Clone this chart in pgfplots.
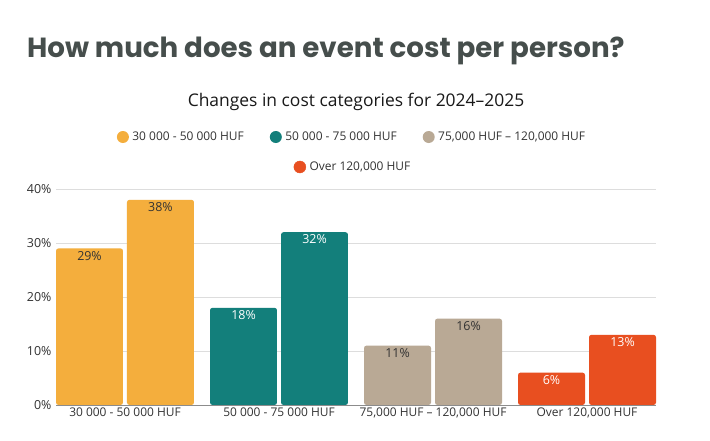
\documentclass[border=0pt]{standalone}
\usepackage{fontspec}
\setmainfont{Open Sans}
\newfontfamily\titlefont{Poppins}
\usepackage{pgfplots}
\pgfplotsset{compat=1.18}
\definecolor{yellowc}{HTML}{F4AE3D}
\definecolor{tealc}{HTML}{137F7B}
\definecolor{tanc}{HTML}{B9A995}
\definecolor{orangec}{HTML}{E84F20}
\definecolor{titlegray}{HTML}{464E4C}
\definecolor{gridc}{HTML}{DDDDDD}
\definecolor{txt}{HTML}{333333}
\begin{document}
\begin{tikzpicture}
\path[use as bounding box, fill=white] (0bp,0bp) rectangle (710bp,441bp);
\node[anchor=base west, font=\titlefont\bfseries\fontsize{27.8}{31}\selectfont, text=titlegray, inner sep=0] at (27bp,383bp) {How much does an event cost per person?};
\node[anchor=base, font=\fontsize{17.5}{20}\selectfont, text=black!90, inner sep=0] at (356bp,334bp) {Changes in cost categories for 2024–2025};
\begin{axis}[
  at={(56bp,36bp)}, anchor=south west,
  scale only axis, width=600bp, height=216bp,
  xmin=-0.448, xmax=3.448, ymin=0, ymax=40,
  ybar, bar shift=0pt, bar width=0.435,
  axis x line*=bottom, axis y line*=left,
  y axis line style={draw=none},
  x axis line style={draw=black!45, line width=0.8bp, -},
  major tick length=0pt,
  ymajorgrids, grid style={gridc, line width=0.8bp},
  ytick={0,10,20,30,40},
  yticklabel={\pgfmathprintnumber{\tick}\%},
  /pgf/number format/assume math mode=true,
  yticklabel style={font=\fontsize{12.5}{14}\selectfont, text=txt, xshift=-1bp},
  xtick={0,1,2,3},
  xticklabels={30 000 - 50 000 HUF, 50 000 - 75 000 HUF, {75,000 HUF – 120,000 HUF}, {Over 120,000 HUF}},
  xticklabel style={font=\fontsize{12}{14}\selectfont, text=txt, yshift=1bp},
  nodes near coords={\pgfmathprintnumber{\pgfplotspointmeta}\%},
  every node near coord/.append style={anchor=north, inner sep=2.5bp, font=\fontsize{12.5}{14}\selectfont},
  legend columns=3,
  legend style={draw=none, fill=none, at={(0.4933,1.2407)}, anchor=center,
    nodes={font=\fontsize{12}{14}\selectfont, text=txt},
    /tikz/every odd column/.append style={column sep=1.5bp},
    /tikz/every even column/.append style={column sep=24bp}},
]
\addplot[fill=yellowc, draw=none, rounded corners=2.5bp,
  every node near coord/.append style={text=txt},
  legend image code/.code={\fill[yellowc] (0bp,0bp) circle (6bp);}]
  coordinates {(-0.2305,29) (0.2305,38)};
\addlegendentry{30 000 - 50 000 HUF}
\addplot[fill=tealc, draw=none, rounded corners=2.5bp,
  every node near coord/.append style={text=white},
  legend image code/.code={\fill[tealc] (0bp,0bp) circle (6bp);}]
  coordinates {(0.7695,18) (1.2305,32)};
\addlegendentry{50 000 - 75 000 HUF}
\addplot[fill=tanc, draw=none, rounded corners=2.5bp,
  every node near coord/.append style={text=txt},
  legend image code/.code={\fill[tanc] (0bp,0bp) circle (6bp);}]
  coordinates {(1.7695,11) (2.2305,16)};
\addlegendentry{75,000 HUF – 120,000 HUF}
\addplot[fill=orangec, draw=none, rounded corners=2.5bp,
  every node near coord/.append style={text=white},
  forget plot]
  coordinates {(2.7695,6) (3.2305,13)};
\end{axis}
\begin{axis}[
  at={(56bp,36bp)}, anchor=south west,
  scale only axis, width=600bp, height=216bp,
  xmin=0, xmax=1, ymin=0, ymax=1, hide axis,
  legend style={draw=none, fill=none, at={(0.495,1.1019)}, anchor=center,
    nodes={font=\fontsize{12}{14}\selectfont, text=txt},
    /tikz/every odd column/.append style={column sep=1.5bp}},
]
\addplot[draw=none, forget plot] coordinates {(0,0) (1,1)};
\addlegendimage{legend image code/.code={\fill[orangec] (0bp,0bp) circle (6bp);}}
\addlegendentry{Over 120,000 HUF}
\end{axis}
\end{tikzpicture}
\end{document}
